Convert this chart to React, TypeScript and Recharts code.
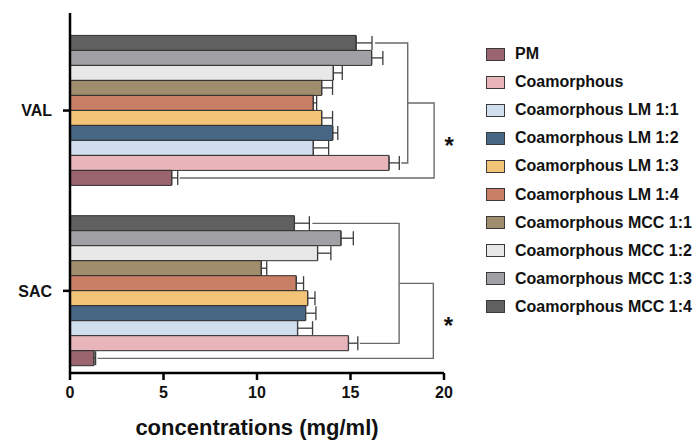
import React from "react";
import { BarChart, Bar, XAxis, YAxis, ErrorBar } from "recharts";

const categories = ["VAL", "SAC"];
const seriesNames = [
  "PM",
  "Coamorphous",
  "Coamorphous LM 1:1",
  "Coamorphous LM 1:2",
  "Coamorphous LM 1:3",
  "Coamorphous LM 1:4",
  "Coamorphous MCC 1:1",
  "Coamorphous MCC 1:2",
  "Coamorphous MCC 1:3",
  "Coamorphous MCC 1:4",
];
const seriesColors = [
  "#9b6570",
  "#e8b6ba",
  "#d1deee",
  "#476784",
  "#f3c477",
  "#c97e66",
  "#9f8d6e",
  "#e8e8e8",
  "#a0a0a5",
  "#606060",
];
const valMeans = [5.44, 17.06, 13.01, 14.05, 13.46, 13.01, 13.46, 14.08, 16.13, 15.3];
const valErrors = [0.32, 0.55, 0.82, 0.27, 0.58, 0.18, 0.58, 0.48, 0.6, 0.85];
const sacMeans = [1.28, 14.89, 12.17, 12.6, 12.71, 12.1, 10.23, 13.24, 14.49, 12.0];
const sacErrors = [0.09, 0.5, 0.8, 0.55, 0.39, 0.39, 0.29, 0.71, 0.66, 0.8];
const xTicks = [0, 5, 10, 15, 20];

// significance brackets (x positions in mg/ml)
const bracketInner = [18.06, 17.6];
const bracketOuter = [19.47, 19.43];

const W = 696;
const H = 441;
const M = { top: 13, right: 252, left: 10, bottom: 0 };
const Y_W = 60;
const X_H = 68;
const PAD = { top: 7.4, bottom: -8 };
const BAR = 15;
const FONT = "'Liberation Sans', Arial, sans-serif";

const means = [valMeans, sacMeans];
const errors = [valErrors, sacErrors];

const data = categories.map((cat, c) => {
  const row: Record<string, any> = { cat };
  seriesNames.forEach((_, i) => {
    row[`s${i}`] = means[c][i];
    row[`e${i}`] = [0, errors[c][i]];
  });
  return row;
});

// geometry helpers for the bracket overlay, same layout as the chart
const plotLeft = M.left + Y_W;
const plotRight = W - M.right;
const plotTop = M.top;
const plotBottom = H - M.bottom - X_H;
const xPx = (v: number) => plotLeft + (v / 20) * (plotRight - plotLeft);
const band = (plotBottom - plotTop - PAD.top - PAD.bottom) / categories.length;
const yPx = (c: number, s: number) => {
  const start = plotTop + PAD.top + c * band + (band - BAR * seriesNames.length) / 2;
  const r = seriesNames.length - 1 - s;
  return start + r * BAR + BAR / 2;
};

const Brackets = () => (
  <svg
    width={W}
    height={H}
    style={{ position: "absolute", left: 0, top: 0, pointerEvents: "none" }}
  >
    {categories.map((cat, c) => {
      const top = yPx(c, 9);
      const coam = yPx(c, 1);
      const pm = yPx(c, 0);
      const xi = xPx(bracketInner[c]);
      const xo = xPx(bracketOuter[c]);
      const mid = (top + coam) / 2;
      const endTop = xPx(means[c][9] + errors[c][9]) + 3;
      const endCoam = xPx(means[c][1] + errors[c][1]) + 2;
      const endPm = xPx(means[c][0] + errors[c][0]) + 2;
      return (
        <g key={cat} stroke="#6a6a6a" strokeWidth={1.4} fill="none">
          <polyline points={`${endTop},${top} ${xi},${top} ${xi},${coam} ${endCoam},${coam}`} />
          <polyline points={`${xi},${mid} ${xo},${mid} ${xo},${pm} ${endPm},${pm}`} />
          <text
            x={xo + 15}
            y={(mid + pm) / 2 + 13}
            textAnchor="middle"
            fontSize={24}
            fontWeight="bold"
            fontFamily={FONT}
            fill="#111"
            stroke="none"
          >
            *
          </text>
        </g>
      );
    })}
  </svg>
);

const LegendBox = () => (
  <div style={{ position: "absolute", left: 486, top: 40, fontFamily: FONT }}>
    {seriesNames.map((name, i) => (
      <div
        key={name}
        style={{ display: "flex", alignItems: "center", height: 28.1 }}
      >
        <div
          style={{
            width: 17,
            height: 11,
            background: seriesColors[i],
            border: "1px solid #3a3a3a",
            marginRight: 10,
          }}
        />
        <span style={{ fontSize: 16, fontWeight: "bold", color: "#111" }}>{name}</span>
      </div>
    ))}
  </div>
);

export default function App() {
  const order = seriesNames.map((_, i) => i).reverse();
  return (
    <div style={{ position: "absolute", left: 0, top: 0, width: W, height: H, background: "#fff" }}>
      <BarChart
        width={W}
        height={H}
        data={data}
        layout="vertical"
        margin={M}
        barSize={BAR}
        barGap={0}
      >
        <XAxis
          type="number"
          domain={[0, 20]}
          ticks={xTicks}
          height={X_H}
          tickSize={7}
          tickMargin={7}
          axisLine={{ stroke: "#000", strokeWidth: 2.5 }}
          tickLine={{ stroke: "#000", strokeWidth: 2.5 }}
          tick={{ fontSize: 16, fontWeight: "bold", fill: "#111", fontFamily: FONT }}
          label={{
            value: "concentrations (mg/ml)",
            position: "insideBottom",
            offset: 6,
            fontSize: 22,
            fontWeight: "bold",
            fill: "#111",
            fontFamily: FONT,
          }}
        />
        <YAxis
          type="category"
          dataKey="cat"
          width={Y_W}
          padding={PAD}
          tickSize={7}
          tickMargin={11}
          axisLine={{ stroke: "#000", strokeWidth: 2.5 }}
          tickLine={{ stroke: "#000", strokeWidth: 2.5 }}
          tick={{ fontSize: 16, fontWeight: "bold", fill: "#111", fontFamily: FONT }}
        />
        {order.map((i) => (
          <Bar
            key={i}
            dataKey={`s${i}`}
            name={seriesNames[i]}
            fill={seriesColors[i]}
            stroke="#2e2e2e"
            strokeWidth={1}
            isAnimationActive={false}
          >
            <ErrorBar
              dataKey={`e${i}`}
              direction="x"
              width={7}
              stroke="#3c3c3c"
              strokeWidth={1.3}
              isAnimationActive={false}
            />
          </Bar>
        ))}
      </BarChart>
      <LegendBox />
      <Brackets />
    </div>
  );
}
